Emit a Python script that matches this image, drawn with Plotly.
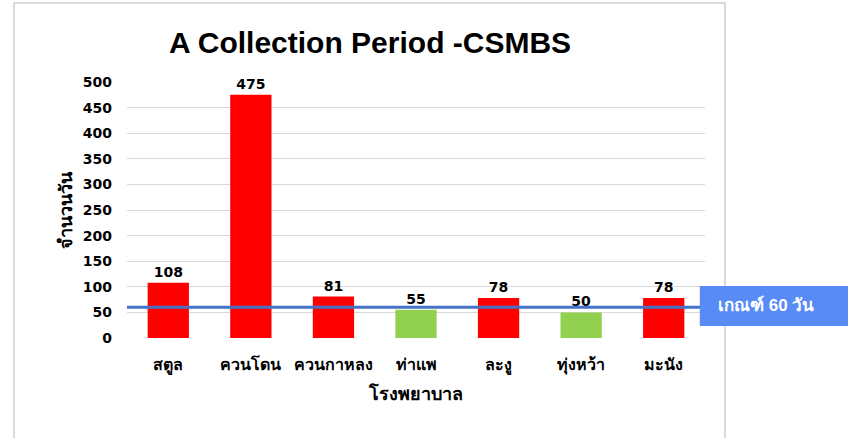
import plotly.graph_objects as go

hospitals = ["สตูล", "ควนโดน", "ควนกาหลง", "ท่าแพ", "ละงู", "ทุ่งหว้า", "มะนัง"]
days = [108, 475, 81, 55, 78, 50, 78]
threshold = 60
threshold_label = "เกณฑ์ 60 วัน"
y_ticks = [0, 50, 100, 150, 200, 250, 300, 350, 400, 450, 500]

colors = ["#FF0000" if v > threshold else "#92D050" for v in days]

FONT = "Liberation Sans, Noto Sans, sans-serif"
NUMFONT = "DejaVu Sans, Liberation Sans, sans-serif"

fig = go.Figure()
fig.add_trace(go.Bar(
    x=hospitals, y=days, marker=dict(color=colors, line=dict(width=0)),
    text=[str(v) for v in days], textposition="outside", cliponaxis=False,
    textfont=dict(size=14, color="#000000", family=NUMFONT, weight="bold"),
    width=0.5,
))

fig.update_layout(
    width=848, height=438,
    margin=dict(l=127, r=143, t=82, b=100),
    paper_bgcolor="white", plot_bgcolor="white",
    showlegend=False,
    title=dict(text="<b>A Collection Period -CSMBS</b>", x=370/848, xanchor="center",
               y=1 - 42/438, yanchor="middle",
               font=dict(size=30, color="#000000", family=FONT)),
    font=dict(family=FONT, color="#000000"),
)
fig.update_yaxes(range=[0, 500], tickvals=y_ticks, showgrid=True, gridcolor="#d9d9d9",
                 gridwidth=1, zeroline=False, showline=False, ticks="",
                 ticklabelstandoff=14,
                 tickfont=dict(size=14, weight="bold", family=NUMFONT),
                 title=dict(text="<b>จำนวนวัน</b>", font=dict(size=18), standoff=5))
fig.update_xaxes(showgrid=False, showline=False, ticks="",
                 ticklabelstandoff=15,
                 tickfont=dict(size=16, weight="bold"),
                 title=dict(text="<b>โรงพยาบาล</b>", font=dict(size=18), standoff=12))

# panel border
fig.add_shape(type="rect", xref="paper", yref="paper", x0=-0.1955, x1=1.0346, y0=-0.6, y1=1.3086,
              line=dict(color="#d9d9d9", width=2), fillcolor="rgba(0,0,0,0)", layer="below")
# threshold line
fig.add_shape(type="line", xref="paper", yref="y", x0=0, x1=0.995, y0=threshold, y1=threshold,
              line=dict(color="#4472C4", width=3))
# threshold box
fig.add_shape(type="rect", xref="paper", yref="paper", x0=0.991, x1=1.26,
              y0=(338 - 326) / 256, y1=(338 - 286) / 256,
              line=dict(width=0), fillcolor="#598BF7")
fig.add_annotation(text="<b>" + threshold_label + "</b>", xref="paper", yref="paper",
                   x=(766 - 127) / 578, y=(338 - 305) / 256, showarrow=False,
                   font=dict(size=17, color="white", family=FONT), xanchor="center", yanchor="middle")

fig.write_html("out.html", post_script="document.body.style.margin='0px';",
               config={"displayModeBar": False})
